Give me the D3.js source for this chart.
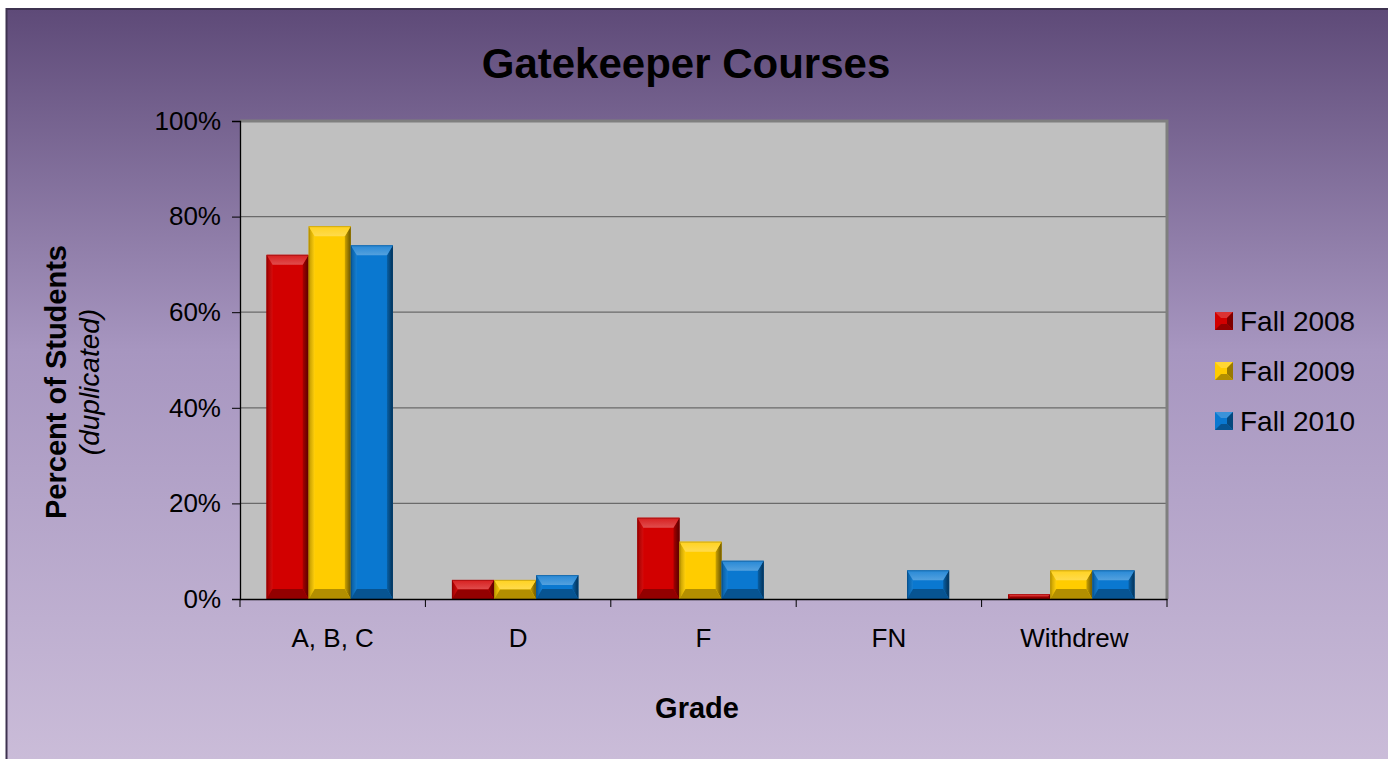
<!doctype html>
<html lang="en">
<head>
<meta charset="UTF-8">
<title>Gatekeeper Courses</title>
<style>
  html, body { margin: 0; padding: 0; background: #fff; }
  svg { display: block; font-family: 'Liberation Sans', Arial, sans-serif; }
</style>
</head>
<body>
<svg width="1388" height="759"></svg>
<script src="https://d3js.org/d3.v7.min.js"></script>
<script>
  const grades = ['A, B, C', 'D', 'F', 'FN', 'Withdrew']
  const seriesNames = ['Fall 2008', 'Fall 2009', 'Fall 2010']
  const fall2008 = [72, 4, 17, 0, 1]
  const fall2009 = [78, 4, 12, 0, 6]
  const fall2010 = [74, 5, 8, 6, 6]
  const yTicks = [0, 20, 40, 60, 80, 100]

  const colors = ['#d20000', '#ffcc00', '#0a78d0']
  const font = "'Liberation Sans', Arial, sans-serif"

  const svg = d3.select('svg')
  const defs = svg.append('defs')

  const shade = (c, k) => k > 0 ? d3.interpolateRgb(c, '#ffffff')(k) : d3.interpolateRgb(c, '#000000')(-k)

  const bg = defs.append('linearGradient').attr('id', 'bg')
    .attr('x1', 0).attr('y1', 0).attr('x2', 0).attr('y2', 1)
  bg.append('stop').attr('offset', '0%').attr('stop-color', '#5e4a78')
  bg.append('stop').attr('offset', '45%').attr('stop-color', '#a796c0')
  bg.append('stop').attr('offset', '100%').attr('stop-color', '#cbbdd9')

  // bevel shading for each bar colour
  colors.forEach((c, i) => {
    const top = defs.append('linearGradient').attr('id', 'top' + i)
      .attr('x1', 0).attr('y1', 0).attr('x2', 0).attr('y2', 1)
    top.append('stop').attr('offset', '0%').attr('stop-color', shade(c, 0.12))
    top.append('stop').attr('offset', '100%').attr('stop-color', shade(c, 0.3))
    const right = defs.append('linearGradient').attr('id', 'right' + i)
      .attr('x1', 0).attr('y1', 0).attr('x2', 1).attr('y2', 0)
    right.append('stop').attr('offset', '0%').attr('stop-color', shade(c, -0.2))
    right.append('stop').attr('offset', '100%').attr('stop-color', shade(c, -0.6))
    const left = defs.append('linearGradient').attr('id', 'left' + i)
      .attr('x1', 0).attr('y1', 0).attr('x2', 1).attr('y2', 0)
    left.append('stop').attr('offset', '0%').attr('stop-color', shade(c, -0.25))
    left.append('stop').attr('offset', '100%').attr('stop-color', shade(c, 0.05))
  })

  svg.append('rect')
    .attr('x', 6.5).attr('y', 9).attr('width', 1390).attr('height', 760)
    .attr('fill', 'url(#bg)').attr('stroke', '#3e3250').attr('stroke-width', 2)

  const margin = { left: 240, right: 221, top: 121, bottom: 160 }
  const width = 1388 - margin.left - margin.right
  const height = 759 - margin.top - margin.bottom

  const x = d3.scaleBand().domain(grades).range([0, width]).paddingInner(0).paddingOuter(0)
  const inner = d3.scaleBand().domain(seriesNames).range([0, x.bandwidth()])
    .paddingInner(0).paddingOuter(0.7).align(0.45)
  const y = d3.scaleLinear().domain([0, 100]).range([height, 0])

  const g = svg.append('g').attr('transform', `translate(${margin.left},${margin.top})`)

  g.append('rect').attr('width', width).attr('height', height).attr('fill', '#c0c0c0')

  g.append('g').selectAll('line').data(yTicks.filter(d => d > 0 && d < 100)).enter().append('line')
    .attr('x1', 0).attr('x2', width)
    .attr('y1', d => y(d)).attr('y2', d => y(d))
    .attr('stroke', '#6a6a6a').attr('stroke-width', 1.2)

  g.append('path').attr('d', `M0,${y(100)}H${width}V${height}`)
    .attr('fill', 'none').attr('stroke', '#7f7f7f').attr('stroke-width', 3)

  const data = [fall2008, fall2009, fall2010]
  const bars = []
  grades.forEach((gr, i) => {
    seriesNames.forEach((s, j) => {
      bars.push({ grade: gr, series: s, value: data[j][i], ci: j })
    })
  })

  const barG = g.append('g').selectAll('g').data(bars.filter(d => d.value > 0)).enter().append('g')
  barG.each(function (d) {
    const el = d3.select(this)
    const c = colors[d.ci]
    const x0 = x(d.grade) + inner(d.series)
    const w = inner.bandwidth()
    const y0 = y(d.value)
    const h = y(0) - y0
    const b = Math.min(10, h / 2, w / 2)
    const s = Math.min(6, h / 2)
    const x1 = x0 + w, y1 = y0 + h
    el.append('rect').attr('x', x0).attr('y', y0).attr('width', w).attr('height', h).attr('fill', c)
    const poly = (pts, col) => el.append('polygon').attr('points', pts.map(p => p.join(',')).join(' ')).attr('fill', col)
    poly([[x0, y0], [x0 + s, y0 + b], [x0 + s, y1 - b], [x0, y1]], `url(#left${d.ci})`)
    poly([[x1, y0], [x1, y1], [x1 - s, y1 - b], [x1 - s, y0 + b]], `url(#right${d.ci})`)
    poly([[x0, y0], [x1, y0], [x1 - s, y0 + b], [x0 + s, y0 + b]], `url(#top${d.ci})`)
    poly([[x0, y1], [x0 + s, y1 - b], [x1 - s, y1 - b], [x1, y1]], shade(c, -0.3))
    el.append('rect').attr('x', x0 + 0.5).attr('y', y0 + 0.5).attr('width', w - 1).attr('height', h - 1)
      .attr('fill', 'none').attr('stroke', shade(c, -0.4)).attr('stroke-opacity', 0.45)
  })

  // axes
  const yAxis = g.append('g').call(d3.axisLeft(y).tickValues(yTicks).tickSize(8).tickFormat(d => d + '%'))
  yAxis.select('.domain').attr('stroke', '#000').attr('stroke-width', 1.3)
  yAxis.selectAll('.tick line').attr('stroke', '#000')
  yAxis.selectAll('text').attr('font-size', 26).attr('fill', '#000').attr('dx', -8)
    .attr('font-family', font)

  const xAxis = g.append('g').attr('transform', `translate(0,${height})`)
    .call(d3.axisBottom(x).tickSize(0))
  xAxis.select('.domain').attr('stroke', '#000').attr('stroke-width', 1.3)
  xAxis.selectAll('text').attr('font-size', 26).attr('fill', '#000').attr('dy', 45)
    .attr('font-family', font)
  g.append('g').selectAll('line').data(d3.range(grades.length + 1)).enter().append('line')
    .attr('x1', i => i * x.step()).attr('x2', i => i * x.step())
    .attr('y1', height).attr('y2', height + 8).attr('stroke', '#000')

  svg.append('text').attr('x', 686).attr('y', 78).attr('text-anchor', 'middle')
    .attr('font-size', 42).attr('font-weight', 'bold').text('Gatekeeper Courses')

  svg.append('text').attr('x', 697).attr('y', 718).attr('text-anchor', 'middle')
    .attr('font-size', 29).attr('font-weight', 'bold').text('Grade')

  svg.append('text').attr('transform', 'translate(66,382) rotate(-90)').attr('text-anchor', 'middle')
    .attr('font-size', 29).attr('font-weight', 'bold').text('Percent of Students')
  svg.append('text').attr('transform', 'translate(99,382) rotate(-90)').attr('text-anchor', 'middle')
    .attr('font-size', 28).attr('font-style', 'italic').text('(duplicated)')

  const legend = svg.append('g').attr('transform', 'translate(1215,321)')
  const li = legend.selectAll('g').data(seriesNames).enter().append('g')
    .attr('transform', (d, i) => `translate(0,${i * 50})`)
  li.each(function (d, i) {
    const el = d3.select(this)
    const c = colors[i], s = 18, b = 6
    el.append('rect').attr('x', 0).attr('y', -s / 2).attr('width', s).attr('height', s).attr('fill', c)
    const poly = (pts, col) => el.append('polygon').attr('points', pts.map(p => p.join(',')).join(' ')).attr('fill', col)
    const x0 = 0, y0 = -s / 2, x1 = s, y1 = s / 2
    poly([[x0, y0], [x1, y0], [x1 - b, y0 + b], [x0 + b, y0 + b]], shade(c, 0.2))
    poly([[x1, y0], [x1, y1], [x1 - b, y1 - b], [x1 - b, y0 + b]], shade(c, -0.4))
    poly([[x0, y1], [x0 + b, y1 - b], [x1 - b, y1 - b], [x1, y1]], shade(c, -0.3))
  })
  li.append('text').attr('x', 25).attr('y', 10).attr('font-size', 28).attr('fill', '#000').attr('font-family', font).text(d => d)
</script>
</body>
</html>
